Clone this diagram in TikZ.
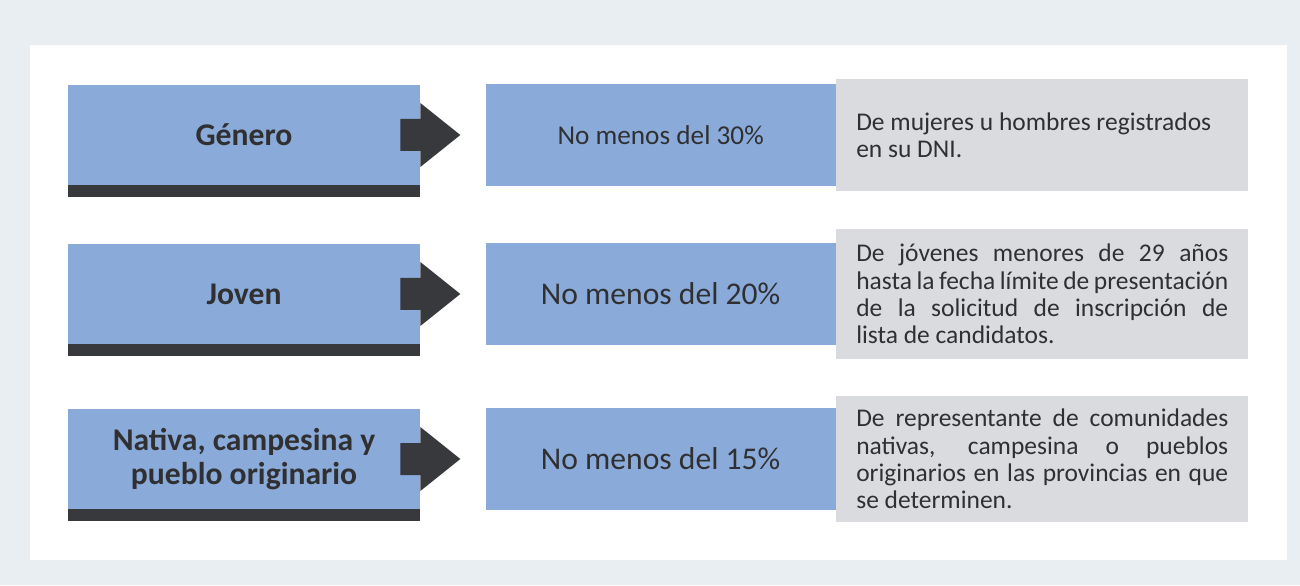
\documentclass[tikz,border=0pt]{standalone}
\usepackage{fontspec}
\setmainfont{Carlito}
\usetikzlibrary{positioning}

\definecolor{pagebg}{RGB}{233,238,242}
\definecolor{boxblue}{RGB}{138,171,217}
\definecolor{bardark}{RGB}{56,57,60}
\definecolor{notegrey}{RGB}{217,219,223}
\definecolor{inkgrey}{RGB}{48,48,50}

\tikzset{
 tipo/.style={fill=boxblue,minimum width=7.04cm,minimum height=2cm,inner sep=0pt,
  align=center,text=inkgrey,font=\fontsize{18}{19.5}\selectfont\bfseries},
 cuota/.style={fill=boxblue,minimum width=7cm,minimum height=2.04cm,inner sep=0pt,
  text=inkgrey,font=\fontsize{18}{20}\selectfont},
 nota/.style={fill=notegrey,minimum width=8.24cm,text width=7.44cm,inner xsep=0.4cm,
  inner ysep=0pt,align=justify,text=inkgrey,font=\fontsize{14.5}{15.6}\selectfont}
}

\begin{document}
\begin{tikzpicture}[x=0.02cm,y=0.02cm]
 \fill[pagebg] (0,0) rectangle (1300,585);
 \fill[white] (30,25) rectangle (1287,540);
 % rows
 \node[tipo] (gen) at (244,450) {Género};
 \node[cuota,right=1.3cm of gen,font=\fontsize{15.5}{18}\selectfont] (gen-c) {No menos del 30\%};
 \node[nota,right=0pt of gen-c,minimum height=2.24cm] (gen-n)
  {De mujeres u hombres registrados\\ en su DNI.};
 \node[tipo] (jov) at (244,291) {Joven};
 \node[cuota,right=1.3cm of jov] (jov-c) {No menos del 20\%};
 \node[nota,right=0pt of jov-c,minimum height=2.6cm] (jov-n)
  {De jóvenes menores de 29 años\linebreak hasta la fecha límite de presentación\linebreak
   de la solicitud de inscripción de\linebreak lista de candidatos.};
 \node[tipo] (nat) at (244,126) {Nativa, campesina y\\ pueblo originario};
 \node[cuota,right=1.3cm of nat] (nat-c) {No menos del 15\%};
 \node[nota,right=0pt of nat-c,minimum height=2.52cm] (nat-n)
  {De representante de comunidades\linebreak nativas, campesina o pueblos\linebreak
   originarios en las provincias en que\linebreak se determinen.};
 % bars and arrows
 \foreach \n in {gen,jov,nat} {
  \fill[bardark] (\n.south west) rectangle ++(352,-12);
  \fill[bardark] (\n.east) ++(-20,-16) -- ++(20,0) -- ++(0,-16) -- ++(40,32)
   -- ++(-40,32) -- ++(0,-16) -- ++(-20,0) -- cycle;
 }
\end{tikzpicture}
\end{document}
